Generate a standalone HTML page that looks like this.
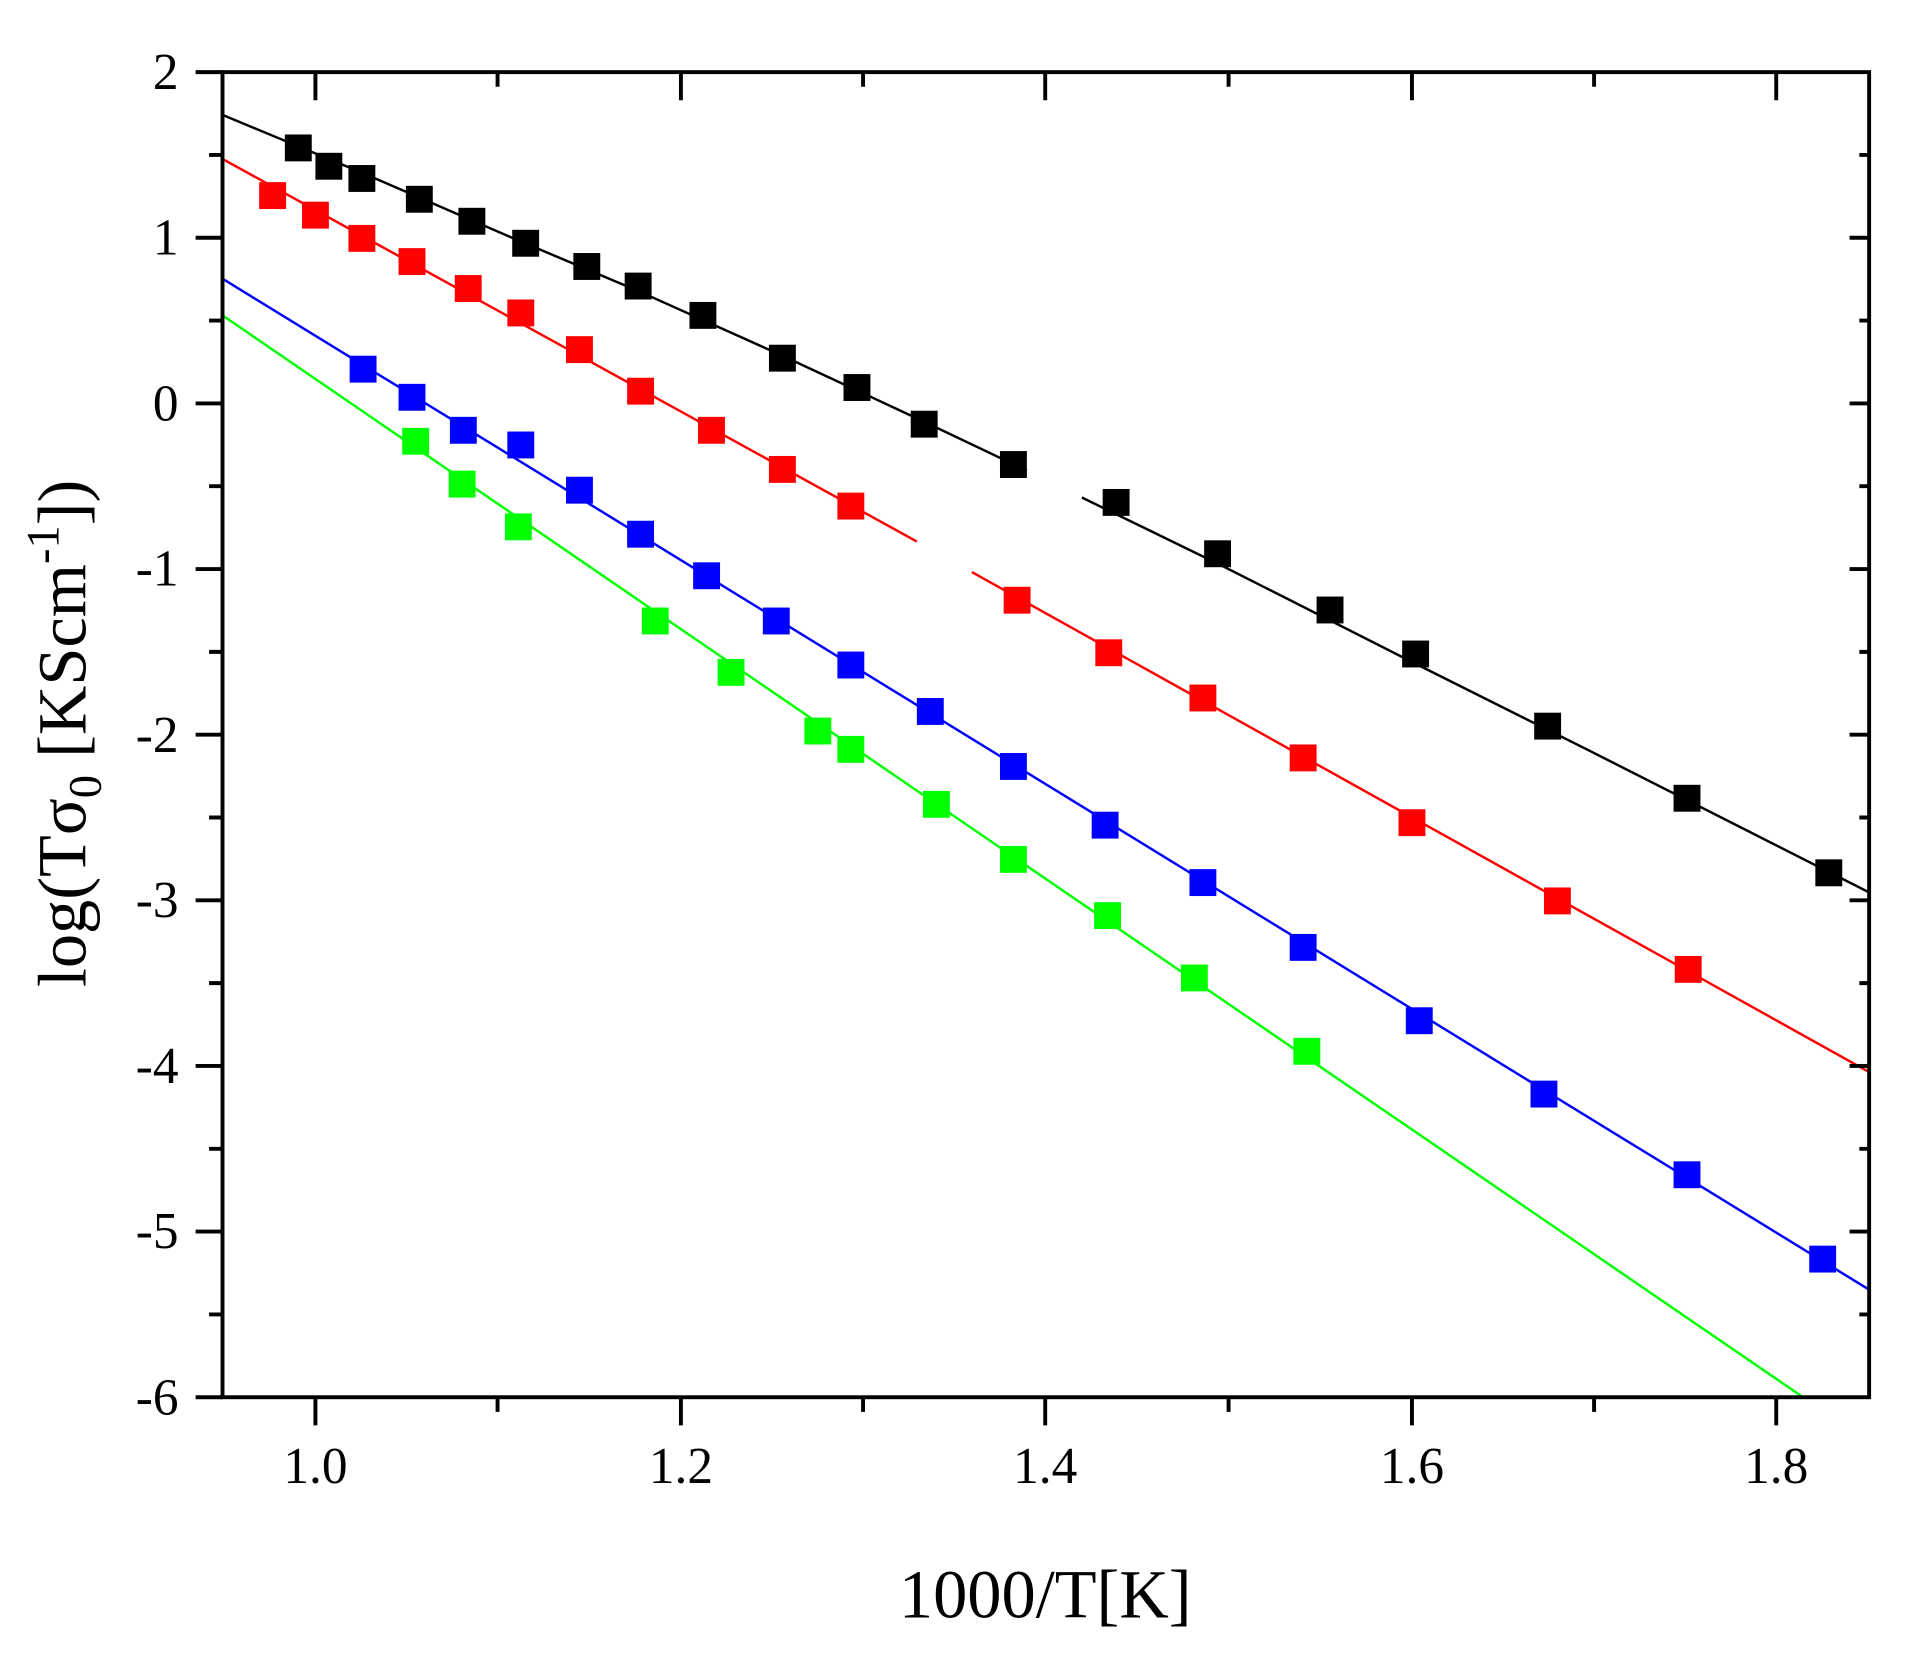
<!DOCTYPE html>
<html><head><meta charset="utf-8"><style>html,body{margin:0;padding:0;background:#fff}svg{display:block}</style></head>
<body>
<svg width="1915" height="1663" viewBox="0 0 1566.5 1360.4" xmlns="http://www.w3.org/2000/svg" font-family="Liberation Serif, serif">
<rect width="1566.5" height="1360.4" fill="#fff"/>
<g stroke-width="2" fill="none">
<polyline points="182,94 300,143 420,195 522,238 640,291 756,345 840,385" stroke="#000"/>
<polyline points="885,407 1000,463 1160,544 1300,614 1529,730" stroke="#000"/>
<line x1="182" y1="130" x2="750" y2="443" stroke="#f00"/>
<line x1="795" y1="468" x2="1529" y2="877" stroke="#f00"/>
<line x1="182" y1="228" x2="1529" y2="1055" stroke="#00f"/>
<line x1="182" y1="258" x2="1475" y2="1143" stroke="#0f0"/>
</g>
<g id="pts">
<g fill="#000">
<rect x="233" y="110" width="22" height="22"/><rect x="258" y="125" width="22" height="22"/><rect x="285" y="135" width="22" height="22"/><rect x="332" y="152" width="22" height="22"/><rect x="375" y="170" width="22" height="22"/><rect x="419" y="188" width="22" height="22"/><rect x="469" y="207" width="22" height="22"/><rect x="511" y="223" width="22" height="22"/><rect x="564" y="247" width="22" height="22"/><rect x="629" y="282" width="22" height="22"/><rect x="690" y="306" width="22" height="22"/><rect x="745" y="336" width="22" height="22"/><rect x="818" y="369" width="22" height="22"/><rect x="902" y="400" width="22" height="22"/><rect x="985" y="442" width="22" height="22"/><rect x="1077" y="488" width="22" height="22"/><rect x="1147" y="524" width="22" height="22"/><rect x="1255" y="583" width="22" height="22"/><rect x="1369" y="642" width="22" height="22"/><rect x="1485" y="703" width="22" height="22"/>
</g>
<g fill="#f00">
<rect x="212" y="149" width="22" height="22"/><rect x="247" y="165" width="22" height="22"/><rect x="285" y="184" width="22" height="22"/><rect x="326" y="203" width="22" height="22"/><rect x="372" y="225" width="22" height="22"/><rect x="415" y="245" width="22" height="22"/><rect x="463" y="275" width="22" height="22"/><rect x="513" y="309" width="22" height="22"/><rect x="571" y="341" width="22" height="22"/><rect x="629" y="373" width="22" height="22"/><rect x="685" y="403" width="22" height="22"/><rect x="821" y="480" width="22" height="22"/><rect x="896" y="523" width="22" height="22"/><rect x="973" y="560" width="22" height="22"/><rect x="1055" y="609" width="22" height="22"/><rect x="1144" y="662" width="22" height="22"/><rect x="1263" y="726" width="22" height="22"/><rect x="1370" y="782" width="22" height="22"/>
</g>
<g fill="#00f">
<rect x="286" y="291" width="22" height="22"/><rect x="326" y="314" width="22" height="22"/><rect x="368" y="341" width="22" height="22"/><rect x="415" y="353" width="22" height="22"/><rect x="463" y="390" width="22" height="22"/><rect x="513" y="426" width="22" height="22"/><rect x="567" y="460" width="22" height="22"/><rect x="624" y="497" width="22" height="22"/><rect x="685" y="533" width="22" height="22"/><rect x="750" y="571" width="22" height="22"/><rect x="818" y="616" width="22" height="22"/><rect x="893" y="664" width="22" height="22"/><rect x="973" y="711" width="22" height="22"/><rect x="1055" y="764" width="22" height="22"/><rect x="1150" y="824" width="22" height="22"/><rect x="1252" y="884" width="22" height="22"/><rect x="1369" y="950" width="22" height="22"/><rect x="1480" y="1019" width="22" height="22"/>
</g>
<g fill="#0f0">
<rect x="329" y="350" width="22" height="22"/><rect x="367" y="385" width="22" height="22"/><rect x="413" y="420" width="22" height="22"/><rect x="525" y="497" width="22" height="22"/><rect x="587" y="539" width="22" height="22"/><rect x="658" y="587" width="22" height="22"/><rect x="685" y="602" width="22" height="22"/><rect x="755" y="647" width="22" height="22"/><rect x="818" y="692" width="22" height="22"/><rect x="895" y="738" width="22" height="22"/><rect x="966" y="789" width="22" height="22"/><rect x="1058" y="849" width="22" height="22"/>
</g>
</g>
<rect x="0" y="1145" width="1566" height="30" fill="#fff"/>
<g stroke="#000" stroke-width="3.2" fill="none">
<rect x="182" y="59" width="1347" height="1084"/>
<path d="M160 59H182M160 194.5H182M160 330H182M160 465.5H182M160 601H182M160 736.5H182M160 872H182M160 1007.5H182M160 1143H182
M171 126.75H182M171 262.25H182M171 397.75H182M171 533.25H182M171 668.75H182M171 804.25H182M171 939.75H182M171 1075.25H182
M1529 194.5H1513M1529 330H1513M1529 465.5H1513M1529 601H1513M1529 736.5H1513M1529 872H1513M1529 1007.5H1513
M1529 126.75H1521M1529 262.25H1521M1529 397.75H1521M1529 533.25H1521M1529 668.75H1521M1529 804.25H1521M1529 939.75H1521M1529 1075.25H1521
M258 1143V1166M557 1143V1166M855 1143V1166M1155 1143V1166M1453 1143V1166
M407 1143V1155M706 1143V1155M1005 1143V1155M1304 1143V1155
M258 59V82M557 59V82M855 59V82M1155 59V82M1453 59V82
M407 59V71M706 59V71M1005 59V71M1304 59V71"/>
</g>
<g font-size="42" fill="#000" text-anchor="end">
<text x="146" y="73">2</text><text x="146" y="208">1</text><text x="146" y="344">0</text><text x="146" y="479">-1</text><text x="146" y="615">-2</text><text x="146" y="750">-3</text><text x="146" y="886">-4</text><text x="146" y="1021">-5</text><text x="146" y="1157">-6</text>
</g>
<g font-size="42" fill="#000" text-anchor="middle">
<text x="258" y="1213">1.0</text><text x="557" y="1213">1.2</text><text x="855" y="1213">1.4</text><text x="1155" y="1213">1.6</text><text x="1453" y="1213">1.8</text>
</g>
<text x="855" y="1323" font-size="56" text-anchor="middle">1000/T[K]</text>
<text transform="translate(70,600) rotate(-90)" font-size="56" text-anchor="middle">log(Tσ<tspan font-size="38" dy="12">0</tspan><tspan dy="-12"> [KScm</tspan><tspan font-size="38" dy="-22">-1</tspan><tspan dy="22">])</tspan></text>
</svg>
</body></html>
